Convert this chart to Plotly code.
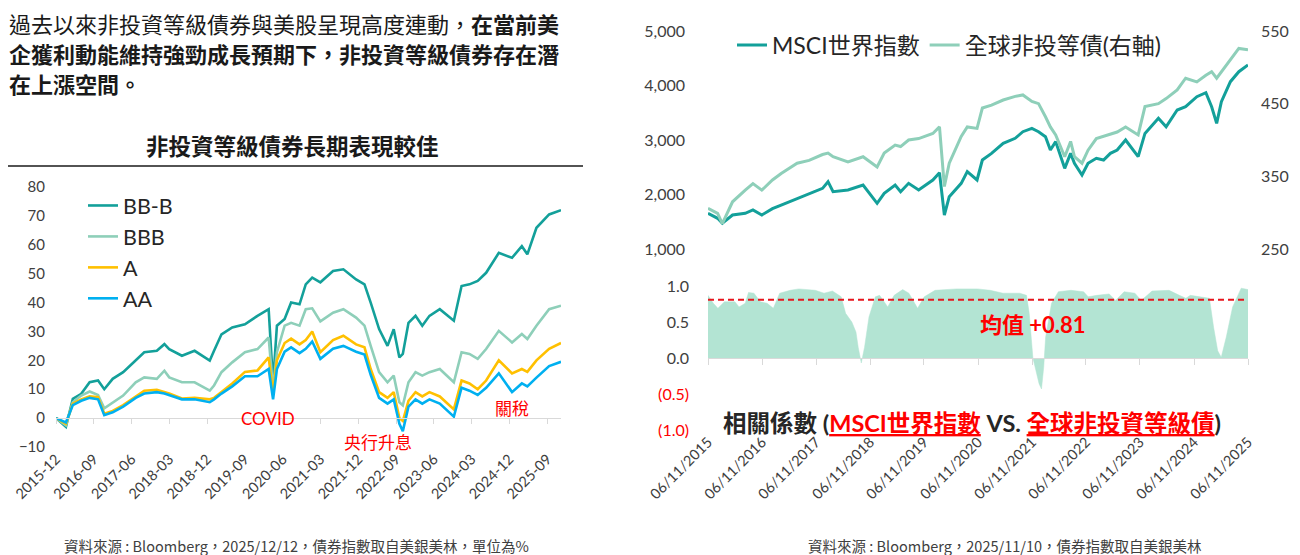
import plotly.graph_objects as go

# ---- left: cumulative return by rating (%) ----
bond_dates = [
    "2015-12-01", "2016-02-11", "2016-04-01", "2016-06-01", "2016-08-01", "2016-10-01",
    "2016-11-15", "2017-01-15", "2017-04-01", "2017-07-01", "2017-09-01", "2017-12-01",
    "2018-01-25", "2018-03-01", "2018-06-01", "2018-09-01", "2018-12-20", "2019-01-20",
    "2019-03-15", "2019-06-01", "2019-09-01", "2019-12-01", "2020-02-20", "2020-03-23",
    "2020-04-20", "2020-06-15", "2020-08-01", "2020-10-01", "2020-11-15", "2021-01-01",
    "2021-03-01", "2021-06-01", "2021-08-15", "2021-11-15", "2022-01-15", "2022-03-01",
    "2022-05-01", "2022-07-01", "2022-08-15", "2022-09-25", "2022-10-20", "2022-11-30",
    "2023-01-20", "2023-03-10", "2023-05-01", "2023-07-15", "2023-10-25", "2023-12-20",
    "2024-02-15", "2024-04-15", "2024-06-15", "2024-09-15", "2024-12-20", "2025-03-01",
    "2025-04-10", "2025-06-15", "2025-09-15", "2025-12-10",
]
bb_b = [
    0, -3, 6.7, 8.4, 12.4, 13, 10, 13.6, 15.9, 19.9, 22.8, 23.3,
    25.6, 23.9, 21.6, 23.3, 19.9, 23.3, 29, 31.4, 32.5, 35.4, 37.7, 12,
    32, 34.3, 40, 39.4, 46.3, 48.6, 47, 50.9, 51.5, 48, 46.3, 40,
    30.8, 25, 30.8, 21, 22.2, 33, 35.4, 32, 35.4, 37.7, 33.7, 45.7,
    46.3, 47.5, 50.3, 57.2, 55.5, 59.5, 56.7, 65.9, 70.5, 72,
]
bbb = [
    0, -2.5, 5.5, 7.8, 9.2, 8, 3.4, 5.5, 7.8, 12.4, 14.1, 13.6,
    16.4, 14.1, 12.4, 12.4, 9.5, 11.3, 15.9, 19.3, 22.8, 23.9, 27.9, 10,
    22.8, 32, 33, 32, 37.7, 38, 33.5, 36.5, 37.7, 34.8, 32, 25,
    15.9, 12.4, 14.7, 5.5, 4.4, 12.4, 15.9, 14.7, 15.9, 17, 12.4, 22.8,
    22.2, 20.5, 23.9, 30.2, 26.2, 29.1, 27.4, 32, 37.7, 38.9,
]
a_rated = [
    0, -2, 5, 6.5, 7.5, 7.2, 1.5, 2.5, 4.5, 7.5, 9.5, 9.8,
    9, 8.5, 6.8, 7, 6.5, 7, 9, 12, 16, 16.5, 21, 8.5,
    20, 26, 27.5, 25.5, 27, 30, 22.8, 27, 28.5, 25.5, 24.5, 17,
    9, 7, 9, 0, -1, 6, 9, 7.5, 9, 7.5, 3, 13,
    12, 10, 13, 20, 15.5, 17, 16, 20, 24, 26,
]
aa = [
    0, -1.5, 4.5, 6, 7, 6.5, 1, 2, 4, 7, 8.5, 9,
    8.5, 8, 6.5, 6.5, 5.5, 6.5, 8.5, 11, 14.5, 14.5, 17, 6.5,
    17, 23, 24.5, 22.5, 24, 26.5, 20.5, 24, 25, 23, 22, 15,
    7, 5, 6.5, -2, -4.5, 4, 6.5, 5, 6.5, 5, 0.5, 10.5,
    9.5, 8, 10.5, 15.5, 9, 12, 11, 14, 18, 19.5,
]
bond_ticks = [
    "2015-12-01", "2016-09-01", "2017-06-01", "2018-03-01", "2018-12-01", "2019-09-01",
    "2020-06-01", "2021-03-01", "2021-12-01", "2022-09-01", "2023-06-01", "2024-03-01",
    "2024-12-01", "2025-09-01",
]

# ---- right top: MSCI World vs global high yield ----
eq_dates = [
    "2015-11-06", "2016-01-10", "2016-02-11", "2016-04-20", "2016-07-15", "2016-09-05",
    "2016-11-04", "2017-01-15", "2017-03-15", "2017-07-01", "2017-09-20", "2017-12-20",
    "2018-01-26", "2018-03-01", "2018-06-10", "2018-09-20", "2018-12-24", "2019-02-10",
    "2019-04-25", "2019-06-01", "2019-07-25", "2019-10-01", "2020-01-05", "2020-02-19",
    "2020-03-23", "2020-04-25", "2020-07-15", "2020-08-25", "2020-10-30", "2020-12-05",
    "2021-02-05", "2021-04-25", "2021-07-15", "2021-09-05", "2021-11-05", "2021-12-20",
    "2022-02-05", "2022-03-10", "2022-04-15", "2022-06-15", "2022-07-25", "2022-08-20",
    "2022-10-10", "2022-11-20", "2023-01-15", "2023-03-05", "2023-04-20", "2023-06-05",
    "2023-08-01", "2023-10-25", "2023-12-10", "2024-03-10", "2024-05-01", "2024-07-15",
    "2024-09-10", "2024-11-25", "2025-01-25", "2025-03-05", "2025-04-08", "2025-05-10",
    "2025-07-10", "2025-09-05", "2025-11-06",
]
msci_world = [
    1655, 1563, 1472, 1624, 1655, 1716, 1624, 1740, 1807, 1930, 2022, 2113,
    2235, 2052, 2082, 2174, 1838, 2022, 2174, 2052, 2205, 2082, 2266, 2400,
    1624, 1960, 2205, 2419, 2266, 2633, 2755, 2939, 3031, 3152, 3214, 3152,
    3061, 2817, 2970, 2480, 2755, 2572, 2358, 2572, 2664, 2633, 2755, 2817,
    3000, 2694, 3121, 3398, 3243, 3550, 3611, 3794, 3868, 3611, 3306, 3702,
    4070, 4253, 4376,
]
global_hy = [
    306, 299, 285, 315, 331, 340, 331, 345, 354, 368, 372, 380,
    382, 377, 370, 377, 363, 382, 393, 391, 400, 402, 409, 418,
    336, 368, 405, 418, 416, 444, 448, 455, 460, 462, 453, 450,
    432, 418, 407, 377, 398, 377, 368, 386, 402, 405, 408, 411,
    418, 407, 446, 450, 457, 469, 485, 480, 489, 494, 485, 494,
    510, 526, 524,
]

# ---- right bottom: rolling correlation ----
corr_dates = [
    "2015-11-06", "2015-12-12", "2016-01-12", "2016-02-25", "2016-05-06", "2016-06-03",
    "2016-07-15", "2016-08-06", "2016-09-12", "2016-10-25", "2016-12-10", "2017-01-21",
    "2017-03-05", "2017-05-15", "2017-07-12", "2017-11-01", "2017-12-30", "2018-02-25",
    "2018-04-25", "2018-05-25", "2018-07-06", "2018-08-03", "2018-08-18", "2018-09-08",
    "2018-09-30", "2018-10-30", "2018-12-12", "2019-01-10", "2019-03-06", "2019-04-18",
    "2019-06-15", "2019-07-27", "2019-09-24", "2019-11-08", "2020-01-20", "2020-06-12",
    "2020-11-03", "2021-01-27", "2021-04-24", "2021-08-15", "2021-09-30", "2021-10-18",
    "2021-11-12", "2021-12-03", "2021-12-24", "2022-01-09", "2022-01-24", "2022-02-06",
    "2022-03-18", "2022-05-03", "2022-07-27", "2022-10-21", "2022-11-21", "2023-01-18",
    "2023-04-12", "2023-05-25", "2023-07-22", "2023-10-03", "2023-11-15", "2024-01-27",
    "2024-05-21", "2024-07-30", "2024-09-12", "2024-10-12", "2025-01-06", "2025-02-18",
    "2025-03-18", "2025-04-15", "2025-05-09", "2025-06-12", "2025-07-25", "2025-09-21",
    "2025-11-06",
]
corr_values = [
    0.87, 0.76, 0.69, 0.78, 0.78, 0.71, 0.76, 0.91, 0.90, 0.78, 0.76, 0.69,
    0.90, 0.94, 0.96, 0.94, 0.90, 0.93, 0.85, 0.62, 0.50, 0.36, 0.15, -0.07,
    0.15, 0.57, 0.85, 0.87, 0.71, 0.87, 0.95, 0.90, 0.69, 0.85, 0.94, 0.96,
    0.96, 0.94, 0.90, 0.90, 0.87, 0.62, 0.0, -0.18, -0.36, -0.43, -0.13, 0.29,
    0.76, 0.92, 0.94, 0.92, 0.85, 0.87, 0.89, 0.80, 0.92, 0.90, 0.80, 0.93,
    0.94, 0.87, 0.83, 0.87, 0.85, 0.83, 0.43, 0.10, 0.01, 0.29, 0.71, 0.97,
    0.95,
]
corr_mean = 0.81
corr_ticks = [f"{y}-11-06" for y in range(2015, 2026)]

FONT = "Lato, 'Noto Sans CJK TC', sans-serif"
CJK = "'Noto Sans CJK TC', sans-serif"
TEAL = "#13a09a"
MINT = "#8ecfb9"
GOLD = "#ffc000"
SKY = "#00b0f0"
RED = "#ff0000"
GREY = "#404040"

# the page body has an 8px margin, so the figure is drawn 8px in from the top-left
PAD = 8
W, H = 1300 - PAD, 555 - PAD


def px_x(v):
    return max(v - PAD, 0) / W


def px_y(v):
    return 1 - (v - PAD) / H


fig = go.Figure()

for name, vals, col in [("BB-B", bb_b, TEAL), ("BBB", bbb, MINT), ("A", a_rated, GOLD), ("AA", aa, SKY)]:
    fig.add_trace(go.Scatter(x=bond_dates, y=vals, name=name, mode="lines",
                             line=dict(color=col, width=2.6), xaxis="x", yaxis="y", legend="legend"))

fig.add_trace(go.Scatter(x=eq_dates, y=msci_world, name="MSCI世界指數", mode="lines",
                         line=dict(color=TEAL, width=3), xaxis="x2", yaxis="y2", legend="legend2"))
fig.add_trace(go.Scatter(x=eq_dates, y=global_hy, name="全球非投等債(右軸)", mode="lines",
                         line=dict(color=MINT, width=3), xaxis="x2", yaxis="y3", legend="legend2"))

fig.add_trace(go.Scatter(x=corr_dates, y=corr_values, mode="lines", fill="tozeroy",
                         fillcolor="#b3e4d3", line=dict(color="#b3e4d3", width=0.5),
                         xaxis="x3", yaxis="y4", showlegend=False))
fig.add_trace(go.Scatter(x=[corr_dates[0], corr_dates[-1]], y=[corr_mean, corr_mean], mode="lines",
                         line=dict(color="#e8141c", width=2, dash="6px,4px"),
                         xaxis="x3", yaxis="y4", showlegend=False))

# invisible carriers for the zero-line tick axes
fig.add_trace(go.Scatter(x=bond_dates, y=aa, mode="lines", opacity=0, hoverinfo="skip",
                         xaxis="x5", yaxis="y", showlegend=False))
fig.add_trace(go.Scatter(x=corr_dates, y=corr_values, mode="lines", opacity=0, hoverinfo="skip",
                         xaxis="x4", yaxis="y4", showlegend=False))

left_dom = [px_x(56), px_x(561)]
left_ydom = [px_y(447), px_y(187)]
left_range = [-10, 80]
right_dom = [px_x(708), px_x(1248)]
corr_ydom = [px_y(430), px_y(286)]
corr_range = [-1, 1]


def zero_pos(dom, rng):
    return dom[0] + (0 - rng[0]) / (rng[1] - rng[0]) * (dom[1] - dom[0])


tick_font = dict(family=FONT, size=15, color=GREY)
date_font = dict(family=FONT, size=14.5, color=GREY)

fig.update_layout(
    width=W, height=H, margin=dict(l=0, r=0, t=0, b=0, autoexpand=False),
    paper_bgcolor="white", plot_bgcolor="rgba(0,0,0,0)",
    font=dict(family=FONT, color=GREY),
    xaxis=dict(domain=left_dom, anchor="y", type="date", range=[bond_dates[0], bond_dates[-1]],
               tickvals=bond_ticks, tickformat="%Y-%m", tickangle=-45, tickfont=date_font,
               showgrid=False, showline=False, ticks="", automargin=False),
    xaxis5=dict(overlaying="x", anchor="free", position=zero_pos(left_ydom, left_range),
                type="date", range=[bond_dates[0], bond_dates[-1]], tickvals=bond_ticks,
                showticklabels=False, showgrid=False, showline=True, linecolor="#d9d9d9",
                ticks="outside", ticklen=5, tickcolor="#d9d9d9", automargin=False),
    yaxis=dict(domain=left_ydom, anchor="x", range=left_range, dtick=10, tickfont=tick_font,
               showgrid=False, zeroline=False, showline=False, ticklabelstandoff=10,
               automargin=False),
    xaxis2=dict(domain=right_dom, anchor="y2", type="date", range=[eq_dates[0], eq_dates[-1]],
                visible=False, automargin=False),
    yaxis2=dict(domain=[px_y(249), px_y(31)], anchor="x2", range=[1000, 5000], dtick=1000,
                tickformat=",", tickfont=dict(family=FONT, size=16, color=GREY),
                showgrid=False, zeroline=False, ticklabelstandoff=22, automargin=False),
    yaxis3=dict(overlaying="y2", side="right", anchor="x2", range=[250, 550],
                tickvals=[250, 350, 450, 550], tickfont=dict(family=FONT, size=16, color=GREY),
                showgrid=False, zeroline=False, ticklabelstandoff=12, automargin=False),
    xaxis3=dict(domain=right_dom, anchor="y4", type="date", range=[corr_dates[0], corr_dates[-1]],
                tickvals=corr_ticks, tickformat="%d/%m/%Y", tickangle=-45, tickfont=date_font,
                showgrid=False, showline=False, ticks="", automargin=False),
    xaxis4=dict(overlaying="x3", anchor="free", position=zero_pos(corr_ydom, corr_range),
                type="date", range=[corr_dates[0], corr_dates[-1]], tickvals=corr_ticks,
                showticklabels=False, showgrid=False, showline=True, linecolor="#d9d9d9",
                ticks="outside", ticklen=6, tickcolor="#d9d9d9", automargin=False),
    yaxis4=dict(domain=corr_ydom, anchor="x3", range=corr_range,
                tickvals=[1, 0.5, 0, -0.5, -1],
                ticktext=["1.0", "0.5", "0.0", f"<span style='color:{RED}'>(0.5)</span>",
                          f"<span style='color:{RED}'>(1.0)</span>"],
                tickfont=dict(family=FONT, size=16, color=GREY),
                showgrid=False, zeroline=False, ticklabelstandoff=18, automargin=False),
    legend=dict(x=px_x(83), y=px_y(185), xanchor="left", yanchor="top",
                font=dict(family=FONT, size=21.5, color="#262626"), bgcolor="rgba(0,0,0,0)",
                tracegroupgap=0),
    legend2=dict(orientation="h", x=px_x(732), y=px_y(45), xanchor="left", yanchor="middle",
                 font=dict(family=FONT, size=23, color="#262626"), bgcolor="rgba(0,0,0,0)"),
)

# text blocks
para = [
    "過去以來非投資等級債券與美股呈現高度連動，<b>在當前美</b>",
    "<b>企獲利動能維持強勁成長預期下，非投資等級債券存在潛</b>",
    "<b>在上漲空間。</b>",
]
for i, line in enumerate(para):
    fig.add_annotation(text=line, xref="paper", yref="paper", x=px_x(8), y=px_y(23 + 30 * i),
                       xanchor="left", yanchor="middle", showarrow=False, borderpad=0,
                       font=dict(family=CJK, size=22, color="#1a1a1a"))

fig.add_annotation(text="<b>非投資等級債券長期表現較佳</b>", xref="paper", yref="paper",
                   x=px_x(292), y=px_y(145), xanchor="center", yanchor="middle", showarrow=False,
                   font=dict(family=CJK, size=22.5, color="#1a1a1a"))
fig.add_shape(type="line", xref="paper", yref="paper", x0=px_x(0), x1=px_x(583),
              y0=px_y(166), y1=px_y(166), line=dict(color="#1a1a1a", width=1.5))

red_font = dict(family=FONT, size=17, color=RED)
fig.add_annotation(text="COVID", x="2020-02-15", y=0, xref="x", yref="y", showarrow=False, font=red_font)
fig.add_annotation(text="央行升息", x="2022-04-20", y=-8.6, xref="x", yref="y", showarrow=False, font=red_font)
fig.add_annotation(text="關稅", x="2024-12-20", y=3.5, xref="x", yref="y", showarrow=False, font=red_font)

fig.add_annotation(text=f"<b>均值 +{corr_mean:.2f}</b>", x="2021-11-10", y=0.47, xref="x3", yref="y4",
                   showarrow=False, font=dict(family=FONT, size=22, color=RED))

caption = (f"<b>相關係數 (<span style='color:{RED}'><u>MSCI世界指數</u></span> VS. "
           f"<span style='color:{RED}'><u>全球非投資等級債</u></span>)</b>")
fig.add_annotation(text=caption, xref="paper", yref="paper", x=px_x(972), y=px_y(423),
                   xanchor="center", yanchor="middle", showarrow=False,
                   font=dict(family=FONT, size=23.5, color="#262626"))

foot_font = dict(family=CJK, size=14.5, color=GREY)
fig.add_annotation(text="資料來源 : Bloomberg，2025/12/12，債券指數取自美銀美林，單位為%",
                   xref="paper", yref="paper", x=px_x(296), y=px_y(545), xanchor="center",
                   yanchor="middle", showarrow=False, font=foot_font)
fig.add_annotation(text="資料來源 : Bloomberg，2025/11/10，債券指數取自美銀美林",
                   xref="paper", yref="paper", x=px_x(1005), y=px_y(545), xanchor="center",
                   yanchor="middle", showarrow=False, font=foot_font)

fig.write_html("out.html")
